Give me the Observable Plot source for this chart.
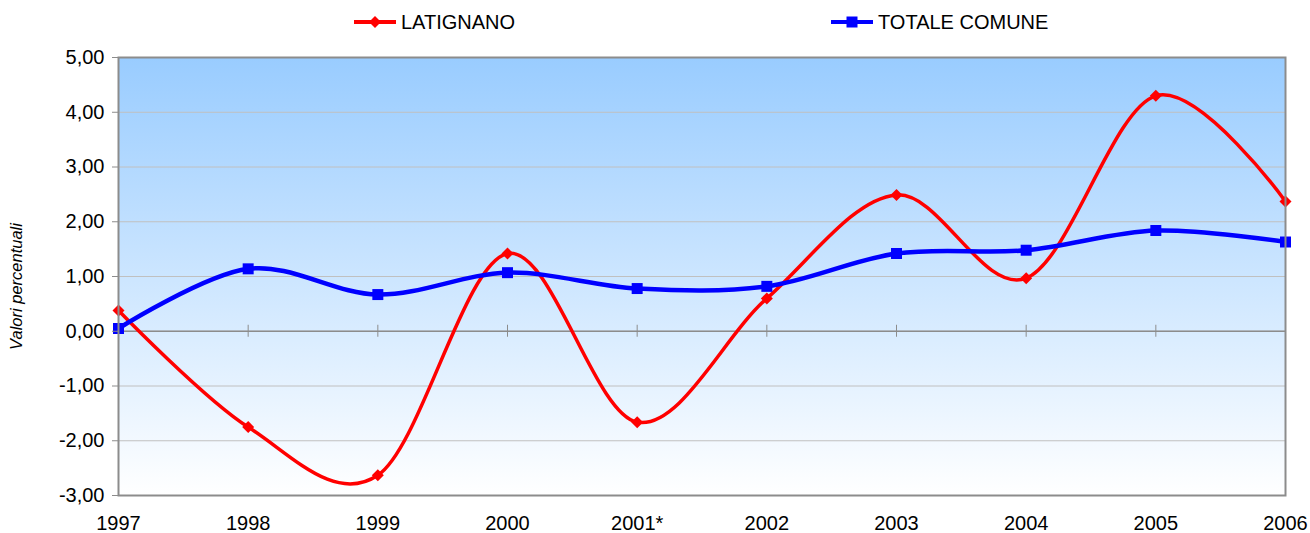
<!DOCTYPE html>
<html>
<head>
<meta charset="utf-8">
<script src="https://cdn.jsdelivr.net/npm/d3@7"></script>
<script src="https://cdn.jsdelivr.net/npm/@observablehq/plot@0.6"></script>
<style>
  html, body { margin: 0; padding: 0; background: white; }
  body { width: 1310px; height: 533px; overflow: hidden; font-family: "Liberation Sans", Arial, sans-serif; }
  #legend { position: relative; height: 40px; }
  .item { position: absolute; top: 12px; display: flex; align-items: center; font-size: 20px; color: black; line-height: 20px; }
  .item svg { margin-right: 5px; }
</style>
</head>
<body>
<div id="legend"></div>
<div id="chart"></div>
<script>
const years = ["1997", "1998", "1999", "2000", "2001*", "2002", "2003", "2004", "2005", "2006"];
const latignano = [0.38, -1.75, -2.63, 1.42, -1.66, 0.60, 2.49, 0.97, 4.30, 2.37];
const totaleComune = [0.05, 1.14, 0.67, 1.07, 0.78, 0.82, 1.42, 1.48, 1.84, 1.63];
const yTicks = [-3, -2, -1, 0, 1, 2, 3, 4, 5];
const seriesNames = ["LATIGNANO", "TOTALE COMUNE"];
const seriesColors = ["#ff0000", "#0000ff"];

const latData = years.map((year, i) => ({year, value: latignano[i]}));
const totData = years.map((year, i) => ({year, value: totaleComune[i]}));
const fmt = d => d.toFixed(2).replace(".", ",");

const chart = Plot.plot({
  width: 1310,
  height: 493,
  marginLeft: 118,
  marginRight: 25,
  marginTop: 17,
  marginBottom: 38,
  style: {fontFamily: "'Liberation Sans', Arial, sans-serif", fontSize: "20px", color: "black", background: "transparent", overflow: "visible"},
  x: {type: "point", domain: years, padding: 0, round: false},
  y: {domain: [-3, 5]},
  marks: [
    Plot.frame({fill: "url(#bgGrad)", stroke: "none"}),
    Plot.gridY(yTicks, {stroke: "#c0c0c0", strokeOpacity: 1, strokeWidth: 1}),
    Plot.ruleY([0], {stroke: "#8c8c8c", strokeWidth: 1.5}),
    Plot.ruleX(years, {x: d => d, y1: 0, y2: 0, insetTop: -6, insetBottom: -6, stroke: "#8c8c8c", strokeWidth: 1}),
    Plot.line(latData, {x: "year", y: "value", stroke: seriesColors[0], strokeWidth: 3.5, curve: "cardinal"}),
    Plot.line(totData, {x: "year", y: "value", stroke: seriesColors[1], strokeWidth: 4.5, curve: "cardinal"}),
    Plot.dot(latData, {x: "year", y: "value", symbol: "diamond2", r: 5.4, fill: seriesColors[0], stroke: "none"}),
    Plot.dot(totData, {x: "year", y: "value", symbol: "square", r: 6.2, fill: seriesColors[1], stroke: "none"}),
    Plot.frame({stroke: "#8c8c8c", strokeWidth: 2}),
    Plot.axisY(yTicks, {tickSize: 6, tickPadding: 8, tickFormat: fmt, stroke: "#8c8c8c",
      label: "Valori percentuali", labelAnchor: "center", labelArrow: "none", labelOffset: 108}),
    Plot.axisX(years, {tickSize: 0, tickPadding: 20, label: null})
  ]
});

const svg = d3.select(chart);
const defs = svg.insert("defs", ":first-child");
const grad = defs.append("linearGradient").attr("id", "bgGrad").attr("x1", 0).attr("y1", 0).attr("x2", 0).attr("y2", 1);
grad.append("stop").attr("offset", "0%").attr("stop-color", "#99ccff");
grad.append("stop").attr("offset", "100%").attr("stop-color", "#ffffff");
svg.selectAll("[aria-label='y-axis label'] text").style("font-style", "italic").style("font-size", "16.5px").attr("dx", -10);

document.getElementById("chart").appendChild(chart);

// legend
const legend = d3.select("#legend");
const lefts = [354, 831];
seriesNames.forEach((name, i) => {
  const item = legend.append("div").attr("class", "item").style("left", lefts[i] + "px");
  const s = item.append("svg").attr("width", 42).attr("height", 14);
  s.append("line").attr("x1", 0).attr("x2", 42).attr("y1", 7).attr("y2", 7).attr("stroke", seriesColors[i]).attr("stroke-width", 4);
  if (i === 0) {
    s.append("path").attr("d", d3.symbol(d3.symbolDiamond2, 92)()).attr("transform", "translate(21,7)").attr("fill", seriesColors[i]);
  } else {
    s.append("path").attr("d", d3.symbol(d3.symbolSquare, 121)()).attr("transform", "translate(21,7)").attr("fill", seriesColors[i]);
  }
  item.append("span").text(name);
});
</script>
</body>
</html>
